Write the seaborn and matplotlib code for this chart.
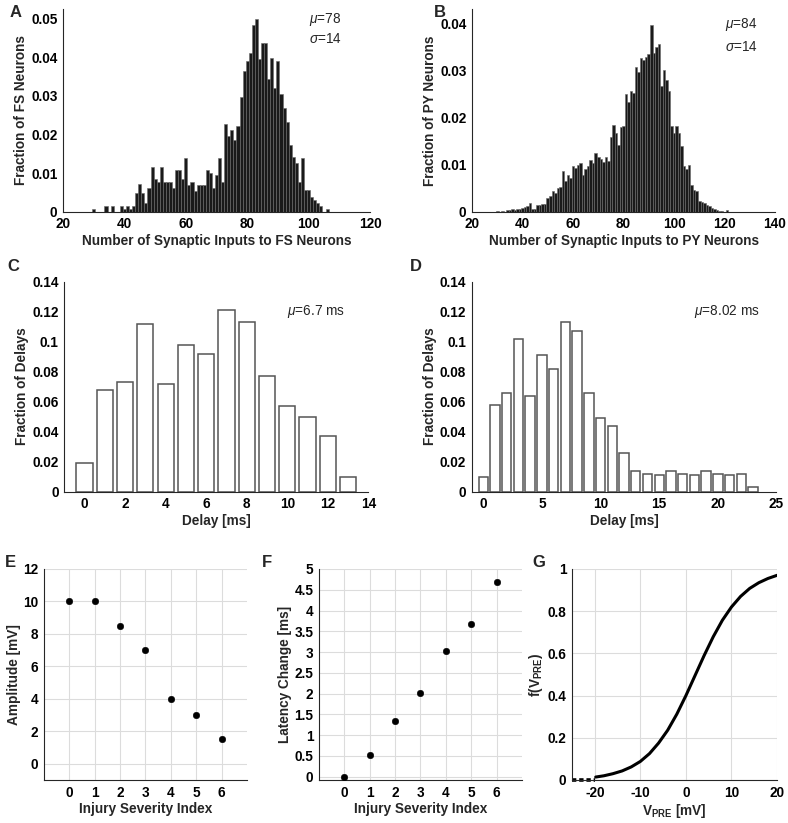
import numpy as np
import pandas as pd
import matplotlib
matplotlib.use("Agg")
import matplotlib.pyplot as plt
import seaborn as sns

# ---- data ----
# A: FS neurons, fraction per number of synaptic inputs (bins of width 1)
fs_inputs = list(range(30, 107))
fs_frac = [0.0008, 0, 0, 0, 0.0015, 0, 0.0015, 0, 0, 0.0015,
           0.0008, 0.0015, 0.0008, 0.0015, 0.0048, 0.0071, 0.0048, 0.0023, 0.0062, 0.0117,
           0.0085, 0.0078, 0.0117, 0.0078, 0.0078, 0.0078, 0.0062, 0.0108, 0.0108, 0.0085,
           0.0140, 0.0069, 0.0078, 0.0054, 0.0069, 0.0069, 0.0069, 0.0108, 0.0100, 0.0062,
           0.0094, 0.0140, 0.0078, 0.0227, 0.0195, 0.0212, 0.0186, 0.0221, 0.0297, 0.0365,
           0.0390, 0.0411, 0.0485, 0.0500, 0.0396, 0.0437, 0.0437, 0.0344, 0.0398, 0.0320,
           0.0391, 0.0305, 0.0268, 0.0232, 0.0173, 0.0143, 0.0127, 0.0078, 0.0140, 0.0056,
           0.0056, 0.0039, 0.0030, 0.0023, 0.0015, 0, 0.0008]

# B: PY neurons
py_inputs = list(range(30, 122))
py_frac = [0.0002, 0, 0.0002, 0, 0.0004, 0.0003, 0.0005, 0.0004, 0.0005, 0.0005,
           0.0007, 0.0009, 0.0011, 0.0018, 0.0006, 0.0006, 0.0014, 0.0014, 0.0016, 0.0016,
           0.0028, 0.0034, 0.0043, 0.0039, 0.0051, 0.0053, 0.0087, 0.0066, 0.0077, 0.0072,
           0.0096, 0.0092, 0.0099, 0.0104, 0.0077, 0.0090, 0.0096, 0.0110, 0.0104, 0.0124,
           0.0117, 0.0112, 0.0105, 0.0117, 0.0107, 0.0158, 0.0185, 0.0168, 0.0142, 0.0180,
           0.0181, 0.0250, 0.0232, 0.0257, 0.0252, 0.0307, 0.0297, 0.0327, 0.0323, 0.0329,
           0.0334, 0.0396, 0.0336, 0.0350, 0.0357, 0.0266, 0.0300, 0.0279, 0.0256, 0.0181,
           0.0167, 0.0183, 0.0167, 0.0139, 0.0096, 0.0090, 0.0099, 0.0057, 0.0046, 0.0044,
           0.0023, 0.0021, 0.0019, 0.0014, 0.0011, 0.0007, 0.0005, 0.0003, 0.0002, 0.0002,
           0, 0.0003]

# C, D: delay distributions
delays_c = list(range(0, 14))
frac_c = [0.019, 0.068, 0.073, 0.112, 0.072, 0.098, 0.092, 0.121, 0.113, 0.077,
          0.057, 0.050, 0.037, 0.010]
delays_d = list(range(0, 24))
frac_d = [0.010, 0.058, 0.066, 0.102, 0.064, 0.091, 0.082, 0.113, 0.107, 0.066,
          0.049, 0.044, 0.026, 0.014, 0.012, 0.011, 0.014, 0.012, 0.011, 0.014,
          0.012, 0.011, 0.012, 0.003]

# E, F: injury severity
severity = [0, 1, 2, 3, 4, 5, 6]
amplitude = [10, 10, 8.5, 7, 4, 3, 1.5]
latency = [0, 0.53, 1.33, 2.02, 3.02, 3.68, 4.68]

# G: activation curve
v_flat = [-25, -24, -23, -22, -21, -20]
f_flat = [0, 0, 0, 0, 0, 0]
v_pre = [-19.8, -18, -16, -14, -12, -10, -8, -6, -4, -2, 0, 2, 4, 6, 8, 10,
         12, 14, 16, 18, 20]
f_pre = [0.014, 0.020, 0.030, 0.043, 0.062, 0.088, 0.125, 0.175, 0.236, 0.312, 0.400,
         0.495, 0.590, 0.679, 0.757, 0.820, 0.870, 0.908, 0.935, 0.955, 0.970]

# ---- style ----
sns.set_theme(style="white")
plt.rcParams["font.family"] = ["Liberation Sans", "DejaVu Sans"]
plt.rcParams["font.weight"] = "bold"
plt.rcParams["axes.labelweight"] = "bold"
plt.rcParams["mathtext.fontset"] = "custom"
plt.rcParams["mathtext.rm"] = "Liberation Sans:weight=normal"
plt.rcParams["mathtext.it"] = "Liberation Sans:slant=italic:weight=normal"
plt.rcParams["mathtext.bf"] = "Liberation Sans:weight=bold"

FS = 9.8
axcol = "#262626"

fig = plt.figure(figsize=(7.88, 8.23), dpi=100)
axA = fig.add_axes([0.080, 0.7428, 0.3896, 0.246])
axB = fig.add_axes([0.599, 0.7428, 0.3845, 0.246])
axC = fig.add_axes([0.0816, 0.4026, 0.3858, 0.2552])
axD = fig.add_axes([0.5984, 0.4026, 0.387, 0.2552])
axE = fig.add_axes([0.0558, 0.05225, 0.2576, 0.2564])
axF = fig.add_axes([0.4048, 0.05225, 0.2576, 0.2564])
axG = fig.add_axes([0.7259, 0.05225, 0.2602, 0.2564])


def style(ax, grid=False):
    sns.despine(ax=ax)
    for s in ["left", "bottom"]:
        ax.spines[s].set_color(axcol)
        ax.spines[s].set_linewidth(0.8)
    ax.tick_params(direction="in", length=3, width=0.8, color=axcol,
                   labelsize=FS, labelcolor="black", pad=4)
    for lab in ax.get_xticklabels() + ax.get_yticklabels():
        lab.set_fontweight("bold")
    ax.xaxis.label.set_size(FS)
    ax.yaxis.label.set_size(FS)
    ax.xaxis.labelpad = 2
    ax.yaxis.labelpad = 2
    fmt = matplotlib.ticker.FuncFormatter(lambda v, p: "%g" % round(v, 6))
    ax.xaxis.set_major_formatter(fmt)
    ax.yaxis.set_major_formatter(fmt)
    if grid:
        ax.grid(True, color="#dcdcdc", linewidth=0.8)
        ax.set_axisbelow(True)
    else:
        ax.grid(False)


def note(ax, x, y, s):
    ax.text(x, y, s, fontsize=FS, fontweight="normal", va="center")


fs_df = pd.DataFrame({"inputs": fs_inputs, "frac": fs_frac})
py_df = pd.DataFrame({"inputs": py_inputs, "frac": py_frac})
fs_edges = [b - 0.5 for b in fs_inputs] + [fs_inputs[-1] + 0.5]
py_edges = [b - 0.5 for b in py_inputs] + [py_inputs[-1] + 0.5]

# A
sns.histplot(data=fs_df, x="inputs", weights="frac", bins=fs_edges, ax=axA,
             color="#1a1a1a", edgecolor="#6a6a6a", linewidth=0.4, alpha=1)
axA.set_xlim(20, 120)
axA.set_ylim(0, 0.0525)
axA.set_xticks(range(20, 121, 20))
axA.set_yticks(np.arange(0, 0.051, 0.01))
axA.set_xlabel("Number of Synaptic Inputs to FS Neurons")
axA.set_ylabel("Fraction of FS Neurons")
note(axA, 100, 0.0498, r"$\mu$=78")
note(axA, 100, 0.0449, r"$\sigma$=14")
style(axA)

# B
sns.histplot(data=py_df, x="inputs", weights="frac", bins=py_edges, ax=axB,
             color="#1a1a1a", edgecolor="#6a6a6a", linewidth=0.4, alpha=1)
axB.set_xlim(20, 140)
axB.set_ylim(0, 0.043)
axB.set_xticks(range(20, 141, 20))
axB.set_yticks(np.arange(0, 0.041, 0.01))
axB.set_xlabel("Number of Synaptic Inputs to PY Neurons")
axB.set_ylabel("Fraction of PY Neurons")
note(axB, 120, 0.0398, r"$\mu$=84")
note(axB, 120, 0.0349, r"$\sigma$=14")
style(axB)

# C
sns.barplot(x=delays_c, y=frac_c, native_scale=True, width=0.8, color="white",
            edgecolor="#555555", linewidth=1.1, ax=axC)
axC.set_xlim(-1, 14)
axC.set_ylim(0, 0.14)
axC.set_xticks(range(0, 15, 2))
axC.set_yticks(np.arange(0, 0.141, 0.02))
axC.set_xlabel("Delay [ms]")
axC.set_ylabel("Fraction of Delays")
note(axC, 10, 0.12, r"$\mu$=6.7 ms")
style(axC)

# D
sns.barplot(x=delays_d, y=frac_d, native_scale=True, width=0.8, color="white",
            edgecolor="#555555", linewidth=1.1, ax=axD)
axD.set_xlim(-1, 25)
axD.set_ylim(0, 0.14)
axD.set_xticks(range(0, 26, 5))
axD.set_yticks(np.arange(0, 0.141, 0.02))
axD.set_xlabel("Delay [ms]")
axD.set_ylabel("Fraction of Delays")
note(axD, 18, 0.12, r"$\mu$=8.02 ms")
style(axD)

# E
sns.scatterplot(x=severity, y=amplitude, color="black", edgecolor="black", s=22, ax=axE,
                zorder=3)
axE.set_xlim(-1, 7)
axE.set_ylim(-1, 12)
axE.set_xticks(severity)
axE.set_yticks(range(0, 13, 2))
axE.set_xlabel("Injury Severity Index")
axE.set_ylabel("Amplitude [mV]")
style(axE, grid=True)

# F
sns.scatterplot(x=severity, y=latency, color="black", edgecolor="black", s=22, ax=axF,
                zorder=3)
axF.set_xlim(-1, 7)
axF.set_ylim(-0.08, 5)
axF.set_xticks(severity)
axF.set_yticks(np.arange(0, 5.01, 0.5))
axF.set_xlabel("Injury Severity Index")
axF.set_ylabel("Latency Change [ms]")
style(axF, grid=True)

# G
sns.lineplot(x=v_flat, y=f_flat, color="black", linewidth=2.6, linestyle=(0, (1.2, 0.8)),
             ax=axG, estimator=None, sort=False, clip_on=False)
sns.lineplot(x=v_pre, y=f_pre, color="black", linewidth=2.2, ax=axG,
             estimator=None, sort=False)
axG.set_xlim(-25, 20)
axG.set_ylim(0, 1)
axG.set_xticks([-20, -10, 0, 10, 20])
axG.set_yticks(np.arange(0, 1.01, 0.2))
axG.set_xlabel(r"V$_\mathbf{PRE}$ [mV]")
axG.set_ylabel(r"f(V$_\mathbf{PRE}$)")
style(axG, grid=True)

# panel letters
for letter, x, y in [("A", 0.012, 0.985), ("B", 0.550, 0.985), ("C", 0.009, 0.676),
                     ("D", 0.520, 0.676), ("E", 0.006, 0.317), ("F", 0.332, 0.317),
                     ("G", 0.675, 0.317)]:
    fig.text(x, y, letter, fontsize=12, fontweight="bold", ha="left", va="center")

fig.savefig("out.png", dpi=100)
